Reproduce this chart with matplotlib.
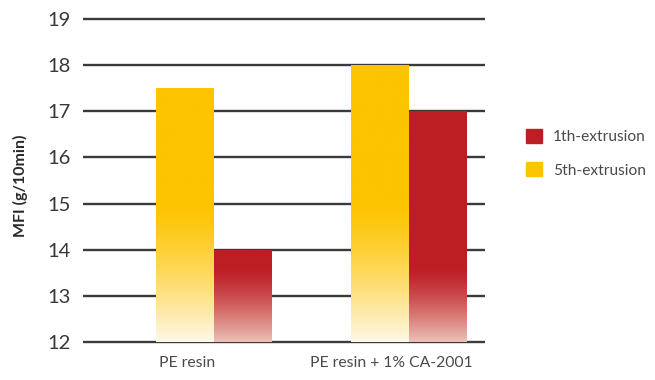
import numpy as np
import matplotlib
matplotlib.use("Agg")
import matplotlib.pyplot as plt
from matplotlib.colors import to_rgb
from matplotlib.patches import Patch

plt.rcParams['font.family'] = ['Lato', 'DejaVu Sans']

# data
groups = ['PE resin', 'PE resin + 1% CA-2001']
series = ['1th-extrusion', '5th-extrusion']
first_ext = [14.0, 17.0]
fifth_ext = [17.5, 18.0]
y_ticks = [12, 13, 14, 15, 16, 17, 18, 19]

red = '#bd1e24'
yellow = '#fdc400'
red_light = '#ecc0b6'
yellow_light = '#fef8e6'


def gradient_fill(ax, bar, solid, light, fade_top, base, power=1.3):
    """paint a vertical fade inside a bar, solid on top, light at the base"""
    x0, y0 = bar.get_x(), bar.get_y()
    x1, y1 = x0 + bar.get_width(), y0 + bar.get_height()
    yv = np.linspace(y0, y1, 300)
    t = np.clip((fade_top - yv) / (fade_top - base), 0, 1) ** power
    c0, c1 = np.array(to_rgb(solid)), np.array(to_rgb(light))
    img = c0[None, :] * (1 - t[:, None]) + c1[None, :] * t[:, None]
    img = img[:, None, :]
    im = ax.imshow(img, extent=[x0, x1, y0, y1], origin='lower',
                   aspect='auto', zorder=3, interpolation='bilinear')
    im.set_clip_path(bar)


fig = plt.figure(figsize=(6.55, 3.8), dpi=100)
ax = fig.add_axes([0.1267, 0.1, 0.6137, 0.85])

x = np.arange(len(groups))
w = 0.295
xlim = (-0.672, 1.39)

ax.hlines(y_ticks, xlim[0], xlim[1], color='#3a3a3a', lw=1.7,
          zorder=1, clip_on=False)

bars_y = ax.bar(x - w / 2, np.array(fifth_ext) - 12, w, bottom=12,
                color='none', zorder=3)
bars_r = ax.bar(x + w / 2, np.array(first_ext) - 12, w, bottom=12,
                color='none', zorder=3)
for b in bars_y:
    gradient_fill(ax, b, yellow, yellow_light, 15.0, 12)
for b in bars_r:
    gradient_fill(ax, b, red, red_light, 13.6, 12)

ax.set_xlim(*xlim)
ax.set_ylim(12, 19)
for s in ax.spines.values():
    s.set_visible(False)

ax.set_yticks(y_ticks)
ax.set_yticklabels([str(v) for v in y_ticks], fontsize=14.5, color='#383838')
ax.tick_params(axis='y', length=0, pad=9)

label_shift = [-0.14, -0.09]
ax.set_xticks(x + np.array(label_shift))
ax.set_xticklabels(groups, fontsize=11.3, color='#4a4a4a')
ax.tick_params(axis='x', length=0, pad=10)

ax.set_ylabel('MFI (g/10min)', fontsize=11.5, fontweight='bold',
              color='#2a2a2a')
ax.yaxis.set_label_coords(-0.138, 0.483)

handles = [Patch(color=red), Patch(color=yellow)]
fig.legend(handles, series, loc='upper left',
           bbox_to_anchor=(0.803, 0.66), frameon=False, fontsize=11.2,
           handlelength=1.0, handleheight=1.0, handletextpad=0.75,
           labelspacing=1.15, borderpad=0, borderaxespad=0,
           labelcolor='#4a4a4a')

fig.savefig('out.png', dpi=100, facecolor='white')
